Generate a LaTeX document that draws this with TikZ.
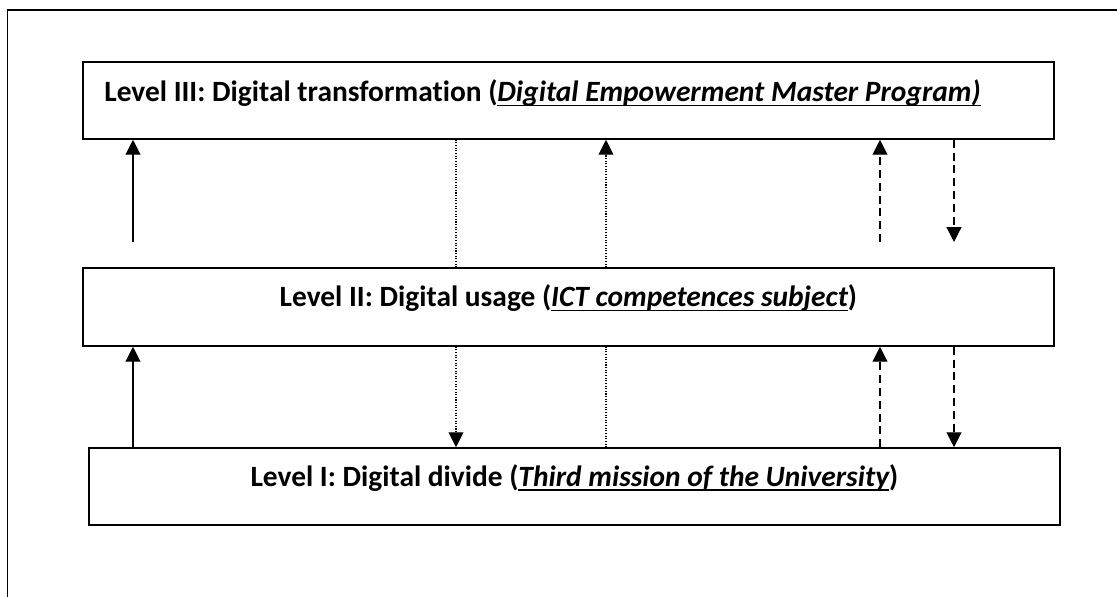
\documentclass[tikz,border=0pt]{standalone}
\usepackage{fontspec}
\setmainfont[Ligatures=NoCommon]{Carlito}
\newlength\ulwd
\newcommand\ulntext[1]{\settowidth\ulwd{#1}\rlap{\rule[-2.4pt]{\ulwd}{0.9pt}}#1}
\usetikzlibrary{arrows.meta,positioning}

\tikzset{
  levelbox/.style={draw,line width=0.9pt,minimum width=19.426cm,minimum height=1.54cm,inner sep=0pt},
  leveltext/.style={font=\bfseries\fontsize{16.75}{20}\selectfont,inner sep=0pt},
  tip/.style={-{Triangle[length=8.5pt,width=8.5pt]}},
  solidline/.style={line width=0.7pt},
  dotline/.style={line width=0.6pt,dash pattern=on 0.6pt off 0.9pt},
  dashline/.style={line width=0.7pt,dash pattern=on 4.5pt off 2.8pt}
}

\begin{document}
\begin{tikzpicture}[x=0.02cm,y=0.02cm]
    \clip (0,0) rectangle (1117,596);
    % outer frame, cut by the page
    \draw[line width=0.9pt] (7.7,-20) -- (7.7,586) -- (1140,586);
    % the three levels
    \node[levelbox] (l3) at (568.4,495.5) {};
    \node[levelbox,minimum height=1.56cm] (l2) at (568.4,289) {};
    \node[levelbox] (l1) at (574.4,109.5) {};
    \node[leveltext,anchor=base west] (t3) at (104,494)
      {Level III: Digital transformation ({\itshape\ulntext{Digital Empowerment Master Program)}}};
    \node[leveltext,anchor=base] (t2) at (l2.center)
      {Level II: Digital usage ({\itshape\ulntext{ICT competences subject}})};
    \node[leveltext,anchor=base] (t1) at (l1.center)
      {Level I: Digital divide ({\itshape\ulntext{Third mission of the University}})};
    % columns of the connectors
    \coordinate (c1) at (133,0);
    \coordinate (c2) at (456,0);
    \coordinate (c3) at (606,0);
    \coordinate (c4) at (880,0);
    \coordinate (c5) at (954,0);
    \coordinate (gap) at (0,354);
    % solid
    \draw[solidline,tip] (c1 |- gap) -- (c1 |- l3.south);
    \draw[solidline,tip] (c1 |- l1.north) -- (c1 |- l2.south);
    % dotted
    \draw[dotline] (c2 |- l3.south) -- (c2 |- l2.north);
    \draw[dotline,tip] (c2 |- l2.south) -- (c2 |- l1.north);
    \draw[dotline,tip] (c3 |- l2.north) -- (c3 |- l3.south);
    \draw[dotline] (c3 |- l1.north) -- (c3 |- l2.south);
    % dashed
    \draw[dashline,tip] (c4 |- gap) -- (c4 |- l3.south);
    \draw[dashline,tip] (c4 |- l1.north) -- (c4 |- l2.south);
    \draw[dashline,tip] (c5 |- l3.south) -- (c5 |- gap);
    \draw[dashline,tip] (c5 |- l2.south) -- (c5 |- l1.north);
\end{tikzpicture}
\end{document}
